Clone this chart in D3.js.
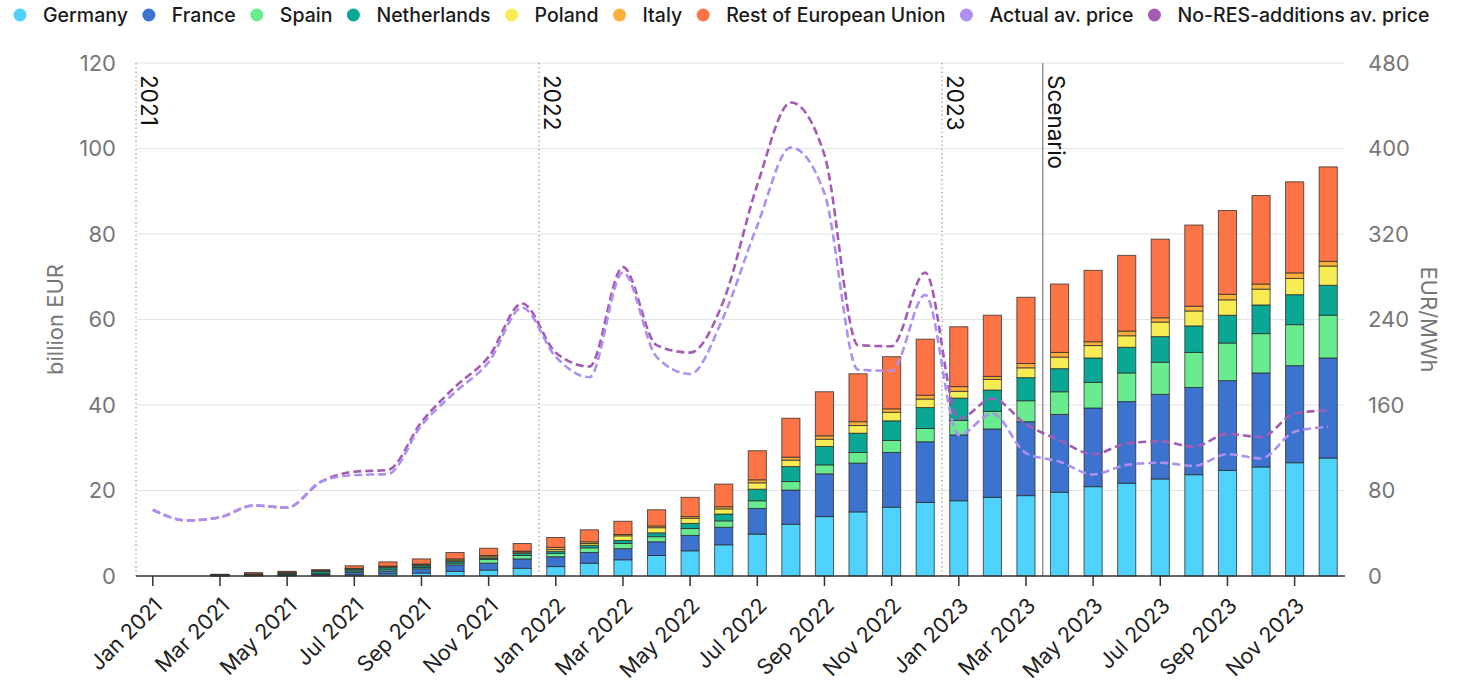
<!DOCTYPE html>
<html>
<head>
<meta charset="utf-8">
<script src="https://cdn.jsdelivr.net/npm/d3@7"></script>
<style>
  body { margin: 0; background: #fff; }
  svg { display: block; font-family: Inter, "Noto Sans", sans-serif; }
</style>
</head>
<body>
<div id="chart"></div>
<script>
// months on the x axis
var months = [
  "Jan 2021","Feb 2021","Mar 2021","Apr 2021","May 2021","Jun 2021","Jul 2021","Aug 2021","Sep 2021","Oct 2021","Nov 2021","Dec 2021",
  "Jan 2022","Feb 2022","Mar 2022","Apr 2022","May 2022","Jun 2022","Jul 2022","Aug 2022","Sep 2022","Oct 2022","Nov 2022","Dec 2022",
  "Jan 2023","Feb 2023","Mar 2023","Apr 2023","May 2023","Jun 2023","Jul 2023","Aug 2023","Sep 2023","Oct 2023","Nov 2023","Dec 2023"
];

// cumulative savings, billion EUR
var germany     = [0,0,0.02,0.05,0.1,0.15,0.3,0.5,0.7,1.1,1.4,1.8, 2.2,3.0,3.8,4.8,5.9,7.3,9.8,12.1,13.9,15.0,16.1,17.2, 17.6,18.4,18.8,19.6,20.9,21.7,22.7,23.7,24.7,25.5,26.5,27.6];
var france      = [0,0,0.05,0.1,0.15,0.25,0.6,0.7,1.0,1.5,1.6,2.2, 2.3,2.5,2.6,3.2,3.6,4.1,6.0,8.0,10.0,11.4,12.8,14.2, 15.4,16.0,17.3,18.2,18.4,19.1,19.8,20.4,21.0,22.0,22.7,23.4];
var spain       = [0,0,0.05,0.05,0.1,0.15,0.3,0.4,0.3,0.4,0.9,0.8, 0.8,1.1,1.2,1.2,1.6,1.5,1.8,2.0,2.1,2.5,2.8,3.1, 3.4,4.1,4.9,5.3,6.0,6.7,7.5,8.2,8.8,9.2,9.6,10.0];
var netherlands = [0,0,0.15,0.15,0.3,0.5,0.4,0.4,0.4,0.4,0.3,0.5, 0.5,0.6,0.7,0.9,1.2,1.6,2.7,3.5,4.3,4.5,4.6,4.9, 5.2,5.0,5.4,5.4,5.7,6.0,6.0,6.2,6.5,6.7,7.0,7.0];
var poland      = [0,0,0.03,0.05,0.1,0.1,0.1,0.2,0.2,0.3,0.3,0.3, 0.4,0.4,1.1,1.2,1.2,1.2,1.5,1.5,1.7,1.8,2.0,2.0, 1.6,2.5,2.3,2.7,2.9,2.7,3.4,3.5,3.6,3.7,3.8,4.5];
var italy       = [0,0,0.03,0.1,0.1,0.1,0.1,0.1,0.2,0.3,0.3,0.2, 0.5,0.4,0.3,0.4,0.4,0.5,0.7,0.7,0.8,0.9,0.8,0.9, 1.1,0.7,1.0,1.1,0.9,1.1,1.0,1.1,1.3,1.2,1.3,1.1];
var restEU      = [0,0,0.07,0.3,0.25,0.25,0.6,1.0,1.2,1.5,1.7,1.8, 2.3,2.8,3.1,3.8,4.5,5.3,6.8,9.1,10.3,11.2,12.2,13.1, 14.0,14.3,15.5,16.0,16.7,17.7,18.4,19.0,19.6,20.7,21.3,22.1];

// average prices, EUR/MWh
var actualPrice = [62,52,55,66,64,88,94.5,95.4,141,172,200,251, 205,186,284,205,189,243,328,401,358,193,192,263, 132,152,115,107,95,104,106,103,114,110,135,139.5];
var noResPrice  = [62,52,55,66,64,88,97.6,99.2,144,177,205,255, 209,196,289,216,209,258,366,443,394,216,215,284, 147,166,142,127,114,124,126,121,133,130,152,155];

var countryNames = ["Germany","France","Spain","Netherlands","Poland","Italy","Rest of European Union"];
var countryColors = ["#4fd2fb","#3b73cf","#69ec90","#0aa894","#f8ec55","#fbb03c","#fd7546"];
var priceNames = ["Actual av. price","No-RES-additions av. price"];
var priceColors = ["#ad90f0","#a35cb3"];

var yearMarks = ["Jan 2021","Jan 2022","Jan 2023"];
var yearLabels = ["2021","2022","2023"];
var scenarioStart = "Apr 2023";

var leftTicks = [0,20,40,60,80,100,120];
var rightTicks = [0,80,160,240,320,400,480];

var width = 1460, height = 690;
var margin = {top: 63, right: 115, bottom: 114, left: 136};
var innerW = width - margin.left - margin.right;
var innerH = height - margin.top - margin.bottom;

var svg = d3.select("#chart").append("svg")
  .attr("width", width)
  .attr("height", height);

var g = svg.append("g").attr("transform", "translate(" + margin.left + "," + margin.top + ")");

var x = d3.scaleBand().domain(months).range([0, innerW]).paddingInner(0.46).paddingOuter(0.23);
var y = d3.scaleLinear().domain([0, 120]).range([innerH, 0]);
var yR = d3.scaleLinear().domain([0, 480]).range([innerH, 0]);

/** gridlines */
g.append("g").selectAll("line")
  .data(leftTicks.filter(function(d){ return d > 0; }))
  .enter().append("line")
  .attr("x1", 0).attr("x2", innerW)
  .attr("y1", function(d){ return y(d); })
  .attr("y2", function(d){ return y(d); })
  .attr("stroke", "#e4e4e4")
  .attr("stroke-width", 1.2);

/** stacked bars */
var series = [germany, france, spain, netherlands, poland, italy, restEU];
var rows = months.map(function(m, i){
  var r = {month: m};
  countryNames.forEach(function(c, j){ r[c] = series[j][i]; });
  return r;
});
var stack = d3.stack().keys(countryNames)(rows);

g.append("g").selectAll("g")
  .data(stack)
  .enter().append("g")
  .attr("fill", function(d, i){ return countryColors[i]; })
  .selectAll("rect")
  .data(function(d){ return d.filter(function(p){ return p[1] - p[0] > 0; }); })
  .enter().append("rect")
  .attr("x", function(d){ return x(d.data.month); })
  .attr("width", x.bandwidth())
  .attr("y", function(d){ return y(d[1]); })
  .attr("height", function(d){ return Math.max(0, y(d[0]) - y(d[1])); })
  .attr("stroke", "#2a2a2a")
  .attr("stroke-opacity", 0.75)
  .attr("stroke-width", 1);

/** year separators */
var half = (x.step() - x.bandwidth()) / 2;
function boundary(m) { return x(m) - half; }

yearMarks.forEach(function(m, i){
  var bx = boundary(m);
  g.append("line")
    .attr("x1", bx).attr("x2", bx)
    .attr("y1", 0).attr("y2", innerH)
    .attr("stroke", "#9a9a9a")
    .attr("stroke-width", 1.3)
    .attr("stroke-dasharray", "1.3,3");
  g.append("text")
    .attr("transform", "translate(" + (bx + 5) + ",12) rotate(90)")
    .attr("font-size", 22.5)
    .attr("fill", "#111")
    .text(yearLabels[i]);
});

var sx = boundary(scenarioStart);
g.append("line")
  .attr("x1", sx).attr("x2", sx)
  .attr("y1", 0).attr("y2", innerH)
  .attr("stroke", "#9a9a9a")
  .attr("stroke-width", 1.6);
g.append("text")
  .attr("transform", "translate(" + (sx + 5) + ",12) rotate(90)")
  .attr("font-size", 22.5)
  .attr("fill", "#111")
  .text("Scenario");

/** price lines */
var line = d3.line()
  .x(function(d, i){ return x(months[i]) + x.bandwidth() / 2; })
  .y(function(d){ return yR(d); })
  .curve(d3.curveMonotoneX);

[noResPrice, actualPrice].forEach(function(vals, k){
  g.append("path")
    .datum(vals)
    .attr("fill", "none")
    .attr("stroke", k === 0 ? priceColors[1] : priceColors[0])
    .attr("stroke-width", 2.6)
    .attr("stroke-dasharray", "8,4")
    .attr("d", line);
});

/** x axis */
var xAxis = g.append("g")
  .attr("transform", "translate(0," + innerH + ")")
  .call(d3.axisBottom(x)
    .tickValues(months.filter(function(d, i){ return i % 2 === 0; }))
    .tickSize(10).tickSizeOuter(0));
xAxis.select(".domain").attr("stroke", "#333").attr("stroke-width", 1.6)
  .attr("d", "M0,0H" + innerW);
xAxis.selectAll(".tick line").attr("stroke", "#333").attr("stroke-width", 1.5);
xAxis.selectAll(".tick text")
  .attr("font-family", "Inter, sans-serif")
  .attr("font-size", 21.5)
  .attr("fill", "#222")
  .attr("text-anchor", "end")
  .attr("dy", null)
  .attr("transform", "translate(11,31) rotate(-45)")
  .attr("y", 0).attr("x", 0);

/** left axis */
var yAxisL = g.append("g")
  .call(d3.axisLeft(y).tickValues(leftTicks).tickSize(0).tickPadding(20));
yAxisL.select(".domain").remove();
yAxisL.selectAll("text")
  .attr("font-family", "Inter, sans-serif")
  .attr("font-size", 22)
  .attr("fill", "#777");

/** right axis */
var yAxisR = g.append("g")
  .attr("transform", "translate(" + innerW + ",0)")
  .call(d3.axisRight(yR).tickValues(rightTicks).tickSize(0).tickPadding(23));
yAxisR.select(".domain").remove();
yAxisR.selectAll("text")
  .attr("font-family", "Inter, sans-serif")
  .attr("font-size", 22)
  .attr("fill", "#777");

svg.append("text")
  .attr("transform", "translate(63," + (margin.top + innerH / 2) + ") rotate(-90)")
  .attr("text-anchor", "middle")
  .attr("font-size", 22)
  .attr("fill", "#777")
  .text("billion EUR");

svg.append("text")
  .attr("transform", "translate(1421," + (margin.top + innerH / 2) + ") rotate(90)")
  .attr("text-anchor", "middle")
  .attr("font-size", 22)
  .attr("fill", "#777")
  .text("EUR/MWh");

/** legend */
var legendItems = countryNames.map(function(n, i){ return {name: n, color: countryColors[i]}; })
  .concat(priceNames.map(function(n, i){ return {name: n, color: priceColors[i]}; }));

var legend = svg.append("g").attr("transform", "translate(0,15)");
var cx = 20;
legendItems.forEach(function(d){
  legend.append("circle")
    .attr("cx", cx).attr("cy", 0).attr("r", 6.5)
    .attr("fill", d.color);
  var t = legend.append("text")
    .attr("x", cx + 23).attr("y", 0)
    .attr("dy", "0.35em")
    .attr("font-size", 19.5)
    .attr("font-weight", 500)
    .attr("fill", "#1a1a1a")
    .text(d.name);
  cx = cx + 23 + t.node().getComputedTextLength() + 21;
});
</script>
</body>
</html>
